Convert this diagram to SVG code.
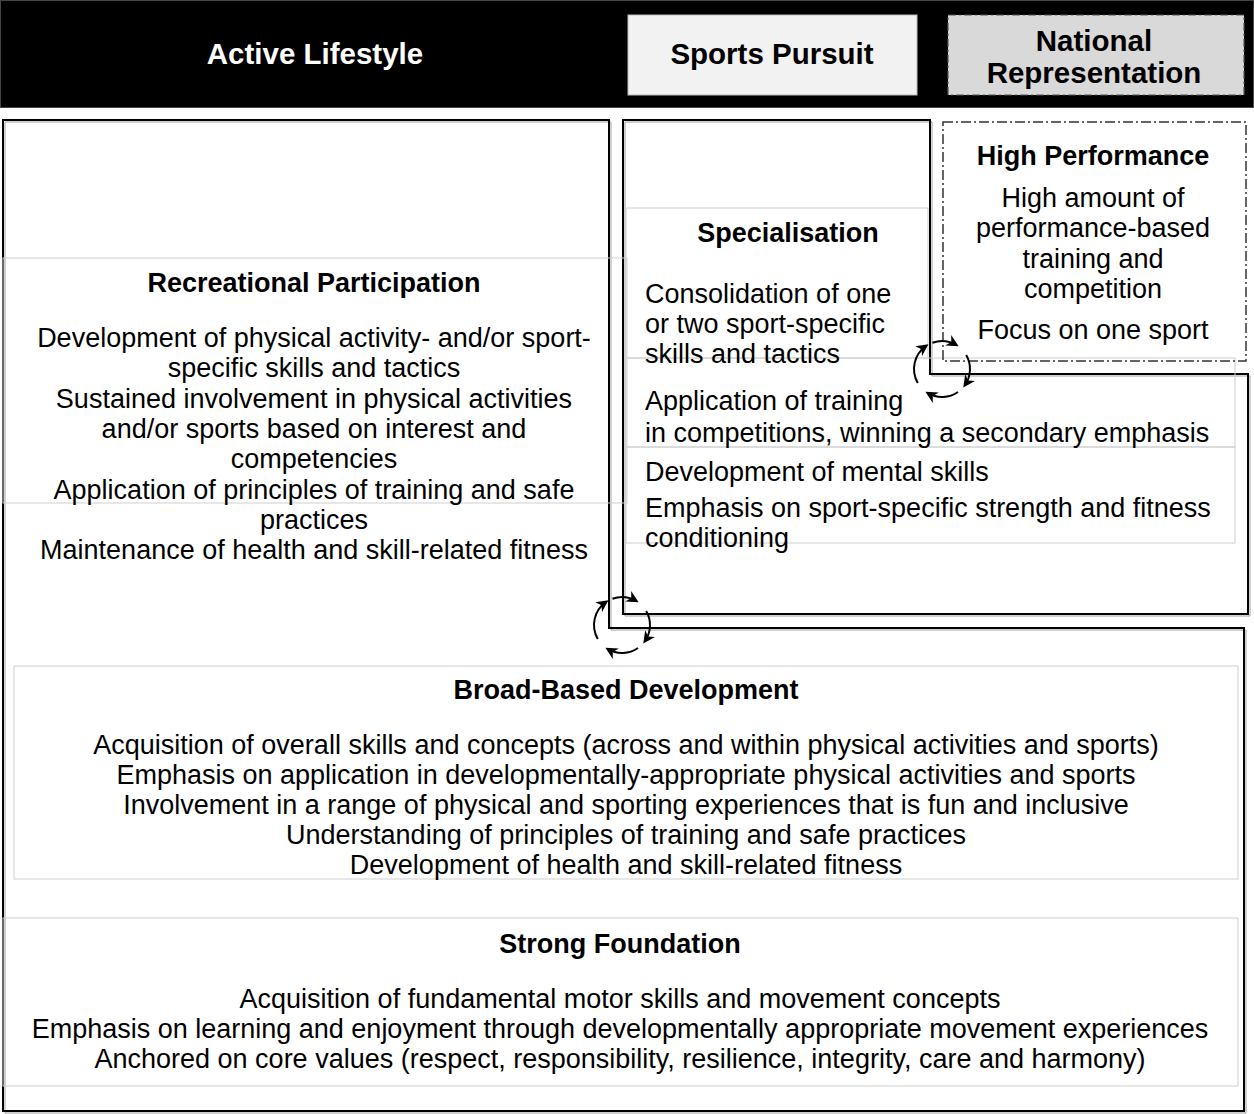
<svg xmlns="http://www.w3.org/2000/svg" width="1254" height="1114" viewBox="0 0 1254 1114">
  <defs>
    <marker id="head" markerUnits="userSpaceOnUse" markerWidth="14" markerHeight="14" refX="9" refY="6" orient="auto">
      <path d="M0,0 L12,6 L0,12 L3.5,6 Z" fill="#000"/>
    </marker>
    <style>
      text { font-family: "Liberation Sans", Arial, sans-serif; fill: #000; }
      .hdr { font-size: 29.5px; font-weight: bold; text-anchor: middle; }
      .title { font-size: 27px; font-weight: bold; text-anchor: middle; }
      .body { font-size: 27px; }
      .mid { text-anchor: middle; }
      .frame { fill: none; stroke: #000; stroke-width: 2; }
      .shadow { fill: none; stroke: #a0a0a0; stroke-width: 1; }
      .tbox { fill: none; stroke: #cfcfcf; stroke-width: 1; }
      .cycle { fill: none; stroke: #000; stroke-width: 2; marker-end: url(#head); }
    </style>
  </defs>

  <rect width="1254" height="1114" fill="#fff"/>

  <!-- header band -->
  <g id="header">
    <rect x="0.5" y="0.5" width="1253" height="107" fill="#000" stroke="#444" stroke-width="1"/>
    <text class="hdr" x="315" y="64" style="fill:#fff">Active Lifestyle</text>
  </g>
  <g id="sports-pursuit-label">
    <rect x="628" y="15" width="289" height="80" fill="#f2f2f2" stroke="#bbb" stroke-width="1"/>
    <text class="hdr" x="772" y="64">Sports Pursuit</text>
  </g>
  <g id="national-label">
    <rect x="948" y="15" width="296" height="80" fill="#d9d9d9" stroke="#555" stroke-width="1.2" stroke-dasharray="8 3 2 3"/>
    <text class="hdr" x="1094" y="51">National</text>
    <text class="hdr" x="1094" y="83">Representation</text>
  </g>

  <!-- outlines of the pathway regions -->
  <g id="frames">
    <path class="shadow" d="M5,122 H611 V630 H1246 V1113 H5 Z"/>
    <path class="frame" d="M3,120 H609 V628 H1244 V1111 H3 Z"/>
    <path class="shadow" d="M625,122 H932 V376 H1250 V616 H625 Z"/>
    <path class="frame" d="M623,120 H930 V374 H1248 V614 H623 Z"/>
  </g>

  <!-- text frames -->
  <g id="text-frames">
    <rect class="tbox" x="3" y="258" width="624" height="245"/>
    <rect class="tbox" x="626" y="208" width="302" height="150"/>
    <rect class="tbox" x="626" y="358" width="609" height="89"/>
    <rect class="tbox" x="626" y="447" width="609" height="96"/>
    <rect class="tbox" x="14" y="666" width="1224" height="213"/>
    <rect class="tbox" x="3" y="918" width="1235" height="168"/>
  </g>

  <g id="recreational-participation">
    <text class="title" x="314" y="292">Recreational Participation</text>
    <text class="body mid" x="314" y="347">Development of physical activity- and/or sport-</text>
    <text class="body mid" x="314" y="377">specific skills and tactics</text>
    <text class="body mid" x="314" y="408">Sustained involvement in physical activities</text>
    <text class="body mid" x="314" y="438">and/or sports based on interest and</text>
    <text class="body mid" x="314" y="468">competencies</text>
    <text class="body mid" x="314" y="499">Application of principles of training and safe</text>
    <text class="body mid" x="314" y="529">practices</text>
    <text class="body mid" x="314" y="559">Maintenance of health and skill-related fitness</text>
  </g>

  <g id="specialisation">
    <text class="title" x="788" y="242">Specialisation</text>
    <text class="body" x="645" y="303">Consolidation of one</text>
    <text class="body" x="645" y="333">or two sport-specific</text>
    <text class="body" x="645" y="363">skills and tactics</text>
    <text class="body" x="645" y="410">Application of training</text>
    <text class="body" x="645" y="442">in competitions, winning a secondary emphasis</text>
    <text class="body" x="645" y="481">Development of mental skills</text>
    <text class="body" x="645" y="517">Emphasis on sport-specific strength and fitness</text>
    <text class="body" x="645" y="547">conditioning</text>
  </g>

  <g id="high-performance">
    <rect x="943" y="122" width="303" height="239" fill="none" stroke="#333" stroke-width="1.5" stroke-dasharray="10 3 2 3"/>
    <text class="title" x="1093" y="165">High Performance</text>
    <text class="body mid" x="1093" y="207">High amount of</text>
    <text class="body mid" x="1093" y="237">performance-based</text>
    <text class="body mid" x="1093" y="268">training and</text>
    <text class="body mid" x="1093" y="298">competition</text>
    <text class="body mid" x="1093" y="339">Focus on one sport</text>
  </g>

  <g id="broad-based-development">
    <text class="title" x="626" y="699">Broad-Based Development</text>
    <text class="body mid" x="626" y="754">Acquisition of overall skills and concepts (across and within physical activities and sports)</text>
    <text class="body mid" x="626" y="784">Emphasis on application in developmentally-appropriate physical activities and sports</text>
    <text class="body mid" x="626" y="814">Involvement in a range of physical and sporting experiences that is fun and inclusive</text>
    <text class="body mid" x="626" y="844">Understanding of principles of training and safe practices</text>
    <text class="body mid" x="626" y="874">Development of health and skill-related fitness</text>
  </g>

  <g id="strong-foundation">
    <text class="title" x="620" y="953">Strong Foundation</text>
    <text class="body mid" x="620" y="1008">Acquisition of fundamental motor skills and movement concepts</text>
    <text class="body mid" x="620" y="1038">Emphasis on learning and enjoyment through developmentally appropriate movement experiences</text>
    <text class="body mid" x="620" y="1068">Anchored on core values (respect, responsibility, resilience, integrity, care and harmony)</text>
  </g>

  <!-- circular transition arrows between pathways -->
  <g id="connectors">
    <g transform="translate(622,625)">
      <path class="cycle" d="M-9.6,-26.3 A28,28 0 0 1 14,-24.2"/>
      <path class="cycle" d="M24.2,-14 A28,28 0 0 1 23,16"/>
      <path class="cycle" d="M16,23 A28,28 0 0 1 -14,24.2"/>
      <path class="cycle" d="M-24.2,14 A28,28 0 0 1 -16,-23"/>
    </g>
    <g transform="translate(942,369)">
      <path class="cycle" d="M-9.6,-26.3 A28,28 0 0 1 14,-24.2"/>
      <path class="cycle" d="M24.2,-14 A28,28 0 0 1 23,16"/>
      <path class="cycle" d="M16,23 A28,28 0 0 1 -14,24.2"/>
      <path class="cycle" d="M-24.2,14 A28,28 0 0 1 -16,-23"/>
    </g>
  </g>
</svg>
